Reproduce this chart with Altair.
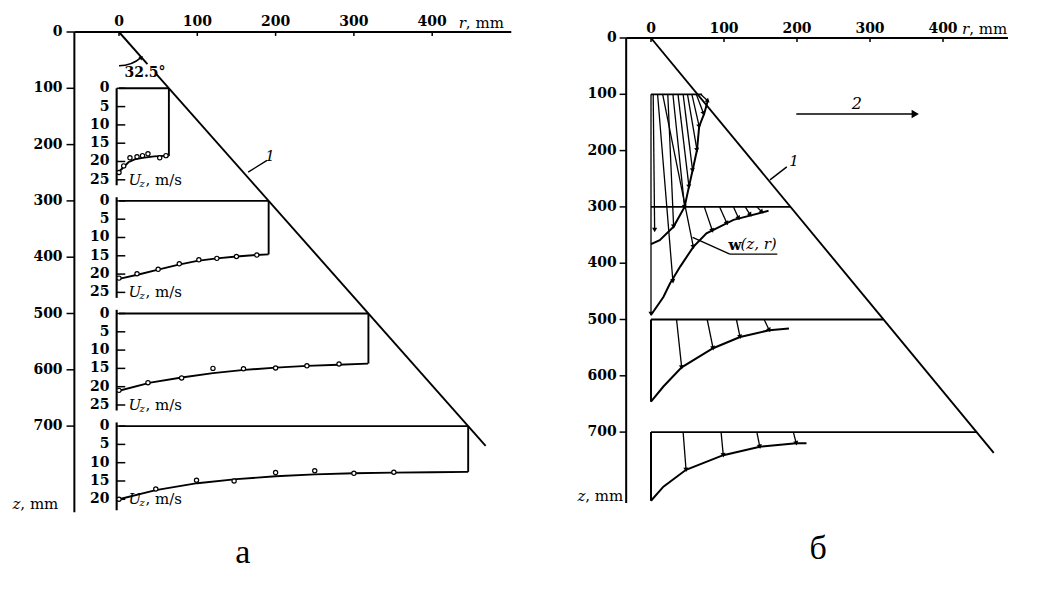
import math
import pandas as pd
import altair as alt

TAN = math.tan(math.radians(32.5))
K_U = 6.5          # mm of z per 1 m/s on the inner U_z axes (panel a)
FONT = "DejaVu Serif"

# ---------------- panel a ----------------
R_TICKS = [0, 100, 200, 300, 400]
Z_TICKS = [0, 100, 200, 300, 400, 500, 600, 700]
A_Z0 = [100, 300, 500, 700]
A_UTICKS = [[0, 5, 10, 15, 20, 25], [0, 5, 10, 15, 20, 25],
            [0, 5, 10, 15, 20, 25], [0, 5, 10, 15, 20]]
A_UAXIS = [[0, 26.5], [-1, 26.5], [-1, 26.5], [-1, 23]]
A_EDGE_U = [18.5, 14.6, 13.7, 12.5]
A_LABEL_U = [25, 25, 25, 20]
A_CURVE_R = [[0, 6, 12, 20, 30, 45, 64],
             [0, 25, 50, 75, 100, 125, 150, 175, 191],
             [0, 40, 80, 120, 160, 200, 240, 280, 318],
             [0, 47, 100, 150, 200, 250, 300, 350, 400, 446]]
A_CURVE_U = [[22.8, 21.5, 20.2, 19.4, 19.0, 18.6, 18.4],
             [21.3, 20.1, 18.8, 17.5, 16.4, 15.7, 15.2, 14.8, 14.6],
             [21.1, 18.9, 17.5, 16.3, 15.4, 14.8, 14.3, 14.0, 13.7],
             [20.0, 17.5, 15.6, 14.5, 13.7, 13.2, 12.9, 12.7, 12.6, 12.5]]
A_PT_R = [[0, 6, 14, 23, 30, 37, 52, 60],
          [0, 23, 50, 77, 102, 125, 150, 176],
          [0, 37, 80, 120, 159, 200, 240, 281],
          [0, 47, 99, 147, 200, 250, 300, 351]]
A_PT_U = [[23.0, 21.2, 19.0, 18.7, 18.4, 17.9, 19.0, 18.4],
          [21.1, 19.9, 18.7, 17.2, 16.1, 15.7, 15.2, 14.8],
          [21.0, 18.9, 17.6, 15.0, 15.1, 14.9, 14.3, 13.8],
          [20.0, 17.2, 14.8, 15.0, 12.7, 12.2, 12.9, 12.6]]

# ---------------- panel б ----------------
B_LEVELS = [100, 300, 500, 700]
B_LEVEL_END = [70, 191, 318, 446]
B_CURVES_R = [[78, 73, 66, 63, 57, 52, 46, 31, 12, 0],
              [161, 113, 76, 58, 40, 26, 17, 0],
              [0, 17, 42, 85, 122, 162, 189],
              [0, 17, 48, 99, 149, 199, 213]]
B_CURVES_Z = [[110, 134, 157, 199, 235, 264, 300, 335, 359, 366],
              [307, 323, 347, 371, 406, 436, 460, 492],
              [646, 619, 585, 551, 531, 519, 516],
              [822, 797, 767, 741, 726, 720, 720]]
B_ARROW_R1 = [0, 3, 9, 16, 23, 30, 37, 44, 50, 56, 62, 68,
              73, 94, 113, 129, 145,
              35, 77, 117, 155,
              44, 96, 145, 195]
B_ARROW_Z1 = [100] * 12 + [300] * 5 + [500] * 4 + [700] * 4
B_ARROW_R2 = [0, 5, 30, 58, 31, 46, 52, 57, 63, 66, 72, 78,
              84, 104, 120, 136, 152,
              42, 85, 122, 162,
              48, 99, 149, 199]
B_ARROW_Z2 = [490, 341, 432, 371, 335, 300, 264, 235, 199, 157, 134, 112,
              342, 329, 320, 314, 309,
              585, 551, 531, 519,
              767, 741, 726, 720]
B_SIDE_Z1 = [500, 700]
B_SIDE_Z2 = [646, 822]

# ---------------- scales (data -> page pixels) ----------------
AX = alt.Scale(domain=[0, 100], range=[119, 197.3], nice=False, zero=False)
AY = alt.Scale(domain=[0, 100], range=[32, 88.3], nice=False, zero=False)
BX = alt.Scale(domain=[0, 100], range=[651, 724], nice=False, zero=False)
BY = alt.Scale(domain=[0, 100], range=[38, 94.3], nice=False, zero=False)
PX = {"a": (0.783, 0.563), "b": (0.73, 0.563)}


def rules(df, sx, sy, w=1.8):
    return alt.Chart(df).mark_rule(color="black", strokeWidth=w).encode(
        x=alt.X("r1:Q", scale=sx, axis=None), x2="r2:Q",
        y=alt.Y("z1:Q", scale=sy, axis=None), y2="z2:Q")


def lines(df, sx, sy, w=1.9):
    return alt.Chart(df).mark_line(color="black", strokeWidth=w).encode(
        x=alt.X("r:Q", scale=sx, axis=None),
        y=alt.Y("z:Q", scale=sy, axis=None),
        detail="g:N", order="i:Q")


def texts(df, sx, sy, **kw):
    props = dict(font=FONT, fontSize=14, color="black", baseline="middle")
    props.update(kw)
    return alt.Chart(df).mark_text(**props).encode(
        x=alt.X("r:Q", scale=sx, axis=None),
        y=alt.Y("z:Q", scale=sy, axis=None),
        text="t:N")


def heads(df, sx, sy, key, size=22):
    kx, ky = PX[key]
    d = df.copy()
    d["ang"] = [(math.degrees(math.atan2(-(b - a) * kx, (d2 - c) * ky)) + 360) % 360
                for a, b, c, d2 in zip(df.r1, df.r2, df.z1, df.z2)]
    return alt.Chart(d).mark_point(shape="triangle-down", filled=True, color="black",
                                   size=size, opacity=1).encode(
        x=alt.X("r2:Q", scale=sx, axis=None),
        y=alt.Y("z2:Q", scale=sy, axis=None),
        angle=alt.Angle("ang:Q", scale=None))


def seg(r1, z1, r2, z2):
    return pd.DataFrame({"r1": r1, "z1": z1, "r2": r2, "z2": z2})


def tx(r, z, t):
    return pd.DataFrame({"r": r, "z": z, "t": t})


layers = []

# ======== panel a : axes ========
layers.append(rules(seg([-57, -57], [0, 0], [501, -57], [0, 853]), AX, AY, 2))
layers.append(rules(seg(R_TICKS, [0] * 5, R_TICKS, [7] * 5), AX, AY, 1.5))
layers.append(texts(tx(R_TICKS, [-17] * 5, [str(v) for v in R_TICKS]), AX, AY,
                    fontWeight="bold", align="center"))
layers.append(rules(seg([-67] * 8, Z_TICKS, [-57] * 8, Z_TICKS), AX, AY, 1.5))
layers.append(texts(tx([-72] * 8, Z_TICKS, [str(v) for v in Z_TICKS]), AX, AY,
                    fontWeight="bold", align="right"))
layers.append(texts(tx([-126], [838], ["z"]), AX, AY, align="right", fontStyle="italic", fontSize=15))
layers.append(texts(tx([-126], [838], [", mm"]), AX, AY, align="left", fontSize=15))
layers.append(texts(tx([443], [-16], ["r"]), AX, AY, align="right", fontStyle="italic", fontSize=15))
layers.append(texts(tx([443], [-16], [", mm"]), AX, AY, align="left", fontSize=15))

# cone boundary 1 and angle
layers.append(rules(seg([0, TAN * 74], [0, 74], [TAN * 57, TAN * 735], [57, 735]), AX, AY, 1.9))
layers.append(alt.Chart(pd.DataFrame({"r": [0], "z": [0]})).mark_arc(
    radius=34.5, radius2=33.0, theta=2.42, theta2=3.1416, color="black").encode(
    x=alt.X("r:Q", scale=AX, axis=None), y=alt.Y("z:Q", scale=AY, axis=None)))
layers.append(alt.Chart(pd.DataFrame({"r": [28.7], "z": [45.3], "ang": [228.5]})).mark_point(
    shape="triangle-down", filled=True, color="black", size=22, opacity=1).encode(
    x=alt.X("r:Q", scale=AX, axis=None), y=alt.Y("z:Q", scale=AY, axis=None),
    angle=alt.Angle("ang:Q", scale=None)))
layers.append(texts(tx([7], [73], ["32.5°"]), AX, AY, align="left", fontWeight="bold"))
layers.append(texts(tx([193], [221], ["1"]), AX, AY, align="center", fontStyle="italic", fontSize=15))
layers.append(rules(seg([165], [249], [189], [228]), AX, AY, 1.4))

# ======== panel a : four velocity profiles ========
ax_r1, ax_z1, ax_r2, ax_z2 = [], [], [], []
tk_r1, tk_z1, tk_r2, tk_z2 = [], [], [], []
lab_r, lab_z, lab_t = [], [], []
box_r1, box_z1, box_r2, box_z2 = [], [], [], []
cur_r, cur_z, cur_g, cur_i = [], [], [], []
pt_r, pt_z = [], []
uz_r, uz_z = [], []
for k, z0 in enumerate(A_Z0):
    u0, u1 = A_UAXIS[k]
    ax_r1.append(-3); ax_r2.append(-3); ax_z1.append(z0 + u0 * K_U); ax_z2.append(z0 + u1 * K_U)
    for u in A_UTICKS[k]:
        tk_r1.append(-3); tk_r2.append(8); tk_z1.append(z0 + u * K_U); tk_z2.append(z0 + u * K_U)
        lab_r.append(-12); lab_z.append(z0 + u * K_U); lab_t.append(str(u))
    re = TAN * z0
    box_r1 += [0, re]; box_z1 += [z0, z0]; box_r2 += [re, re]; box_z2 += [z0, z0 + A_EDGE_U[k] * K_U]
    for i, (r, u) in enumerate(zip(A_CURVE_R[k], A_CURVE_U[k])):
        cur_r.append(r); cur_z.append(z0 + u * K_U); cur_g.append(k); cur_i.append(i)
    for r, u in zip(A_PT_R[k], A_PT_U[k]):
        pt_r.append(r); pt_z.append(z0 + u * K_U)
    uz_r.append(12); uz_z.append(z0 + A_LABEL_U[k] * K_U)

layers.append(rules(seg(ax_r1, ax_z1, ax_r2, ax_z2), AX, AY, 2.1))
layers.append(rules(seg(tk_r1, tk_z1, tk_r2, tk_z2), AX, AY, 1.5))
layers.append(texts(tx(lab_r, lab_z, lab_t), AX, AY, align="right", fontWeight="bold"))
layers.append(rules(seg(box_r1, box_z1, box_r2, box_z2), AX, AY, 1.9))
layers.append(lines(pd.DataFrame({"r": cur_r, "z": cur_z, "g": cur_g, "i": cur_i}), AX, AY))
layers.append(alt.Chart(pd.DataFrame({"r": pt_r, "z": pt_z})).mark_point(
    shape="circle", filled=True, fill="white", stroke="black", strokeWidth=1.2,
    size=18, opacity=1).encode(
    x=alt.X("r:Q", scale=AX, axis=None), y=alt.Y("z:Q", scale=AY, axis=None)))
layers.append(texts(tx(uz_r, uz_z, ["U"] * 4), AX, AY, align="left", fontStyle="italic", fontSize=15))
layers.append(texts(tx(uz_r, uz_z, ["z"] * 4), AX, AY, align="left", fontStyle="italic",
                    fontSize=10, dx=11, dy=4))
layers.append(texts(tx(uz_r, uz_z, [", m/s"] * 4), AX, AY, align="left", fontSize=15, dx=17))

# ======== panel б : axes ========
layers.append(rules(seg([-34, -34], [0, 0], [489, -34], [0, 826]), BX, BY, 2))
layers.append(rules(seg(R_TICKS, [0] * 5, R_TICKS, [7] * 5), BX, BY, 1.5))
layers.append(texts(tx(R_TICKS, [-16] * 5, [str(v) for v in R_TICKS]), BX, BY,
                    fontWeight="bold", align="center"))
layers.append(rules(seg([-43] * 8, Z_TICKS, [-34] * 8, Z_TICKS), BX, BY, 1.5))
layers.append(texts(tx([-47] * 8, Z_TICKS, [str(v) for v in Z_TICKS]), BX, BY,
                    fontWeight="bold", align="right"))
layers.append(texts(tx([-90], [813], ["z"]), BX, BY, align="right", fontStyle="italic", fontSize=15))
layers.append(texts(tx([-90], [813], [", mm"]), BX, BY, align="left", fontSize=15))
layers.append(texts(tx([436], [-16], ["r"]), BX, BY, align="right", fontStyle="italic", fontSize=15))
layers.append(texts(tx([436], [-16], [", mm"]), BX, BY, align="left", fontSize=15))

# cone boundary, levels, side walls
layers.append(rules(seg([0], [0], [TAN * 737], [737]), BX, BY, 1.9))
layers.append(rules(seg([0] * 4, B_LEVELS, B_LEVEL_END, B_LEVELS), BX, BY, 1.8))
layers.append(rules(seg([0, 0], B_SIDE_Z1, [0, 0], B_SIDE_Z2), BX, BY, 2))

cr, cz, cg, ci = [], [], [], []
for k in range(4):
    for i, (r, z) in enumerate(zip(B_CURVES_R[k], B_CURVES_Z[k])):
        cr.append(r); cz.append(z); cg.append(k); ci.append(i)
layers.append(lines(pd.DataFrame({"r": cr, "z": cz, "g": cg, "i": ci}), BX, BY, 2))

arrows = seg(B_ARROW_R1, B_ARROW_Z1, B_ARROW_R2, B_ARROW_Z2)
layers.append(rules(arrows, BX, BY, 1.3))
layers.append(heads(arrows, BX, BY, "b", 26))

arrow2 = seg([199], [135], [362], [135])
layers.append(rules(arrow2, BX, BY, 1.7))
layers.append(heads(arrow2, BX, BY, "b", 70))
layers.append(texts(tx([282], [117], ["2"]), BX, BY, align="center", fontStyle="italic", fontSize=16))
layers.append(texts(tx([196], [219], ["1"]), BX, BY, align="center", fontStyle="italic", fontSize=15))
layers.append(rules(seg([163], [252], [186], [229]), BX, BY, 1.4))
layers.append(rules(seg([57, 108], [354, 384], [108, 173], [384, 384]), BX, BY, 1.3))
layers.append(texts(tx([106], [368], ["w"]), BX, BY, align="left", fontWeight="bold", fontSize=15))
layers.append(texts(tx([106], [368], ["(z, r)"]), BX, BY, align="left", fontStyle="italic",
                    fontSize=15, dx=12, baseline="bottom", dy=7))

# ======== panel captions ========
layers.append(texts(tx([158], [925], ["а"]), AX, AY, align="center", font="Liberation Serif", fontSize=34))
layers.append(texts(tx([229], [908], ["б"]), BX, BY, align="center", font="Liberation Serif", fontSize=34))

chart = alt.layer(*layers).resolve_scale(x="independent", y="independent").properties(
    width=1062, height=590, autosize=alt.AutoSizeParams(type="none"), padding=0,
    background="white").configure_view(stroke=None)

chart.save("out.html", embed_options={"renderer": "svg", "actions": False})
